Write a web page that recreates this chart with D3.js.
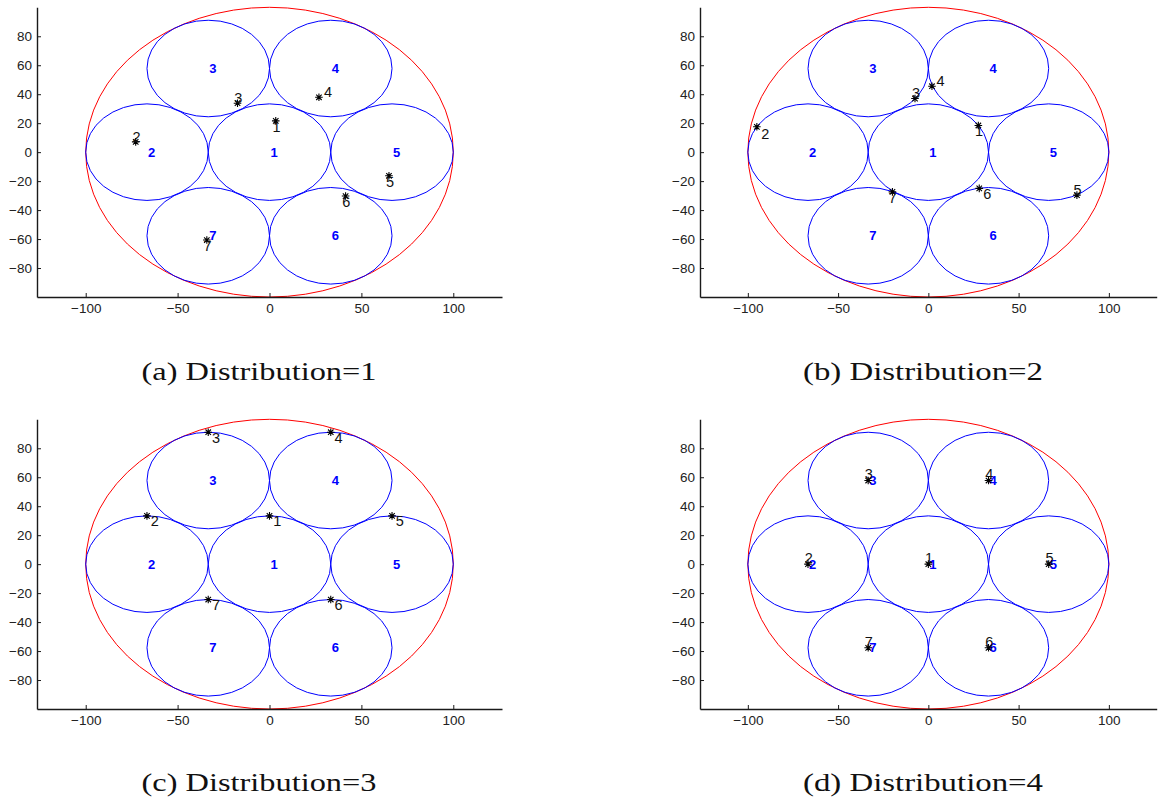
<!DOCTYPE html>
<html>
<head>
<meta charset="utf-8">
<script src="https://cdn.jsdelivr.net/npm/d3@7"></script>
<style>
  body { margin: 0; background: #fff; }
  svg { display: block; }
</style>
</head>
<body>
<svg id="chart" width="1172" height="800"></svg>
<script>
// ---------- data ----------
const cellIds = [1, 2, 3, 4, 5, 6, 7];
const cellX = [0, -66.67, -33.33, 33.33, 66.67, 33.33, -33.33];
const cellY = [0, 0, 57.74, 57.74, 0, -57.74, -57.74];
const cellRadius = 33.33;
const coverageRadius = 100;

const xTicks = [-100, -50, 0, 50, 100];
const yTicks = [-80, -60, -40, -20, 0, 20, 40, 60, 80];
const xDomain = [-126.5, 126.5];
const yDomain = [-100, 100];

const captions = ["(a) Distribution=1", "(b) Distribution=2", "(c) Distribution=3", "(d) Distribution=4"];

// user positions (one per cell) for each distribution
const userX1 = [3.4, -72.8, -17.4, 26.9, 65.0, 41.4, -34.1];
const userY1 = [21.6, 7.1, 33.8, 37.9, -16.3, -30.3, -60.7];
const labelDX1 = [0.4, 0.4, 0.4, 4.9, 0.6, 0.4, 0.4];
const labelDY1 = [-4.1, 3.4, 3.7, 4.1, -3.9, -3.9, -4.1];

const userX2 = [27.7, -95.0, -7.4, 2.0, 82.3, 28.2, -19.9];
const userY2 = [18.4, 17.5, 37.0, 45.5, -29.7, -25.0, -27.4];
const labelDX2 = [0.4, 4.6, 0.6, 4.8, 0.4, 4.4, 0.0];
const labelDY2 = [-3.7, -4.6, 3.9, 3.9, 3.9, -3.9, -3.9];

const userX3 = [0, -66.67, -33.33, 33.33, 66.67, 33.33, -33.33];
const userY3 = [33.33, 33.33, 91.07, 91.07, 33.33, -24.41, -24.41];
const labelDX3 = [4.2, 4.2, 4.2, 4.2, 4.2, 4.2, 4.2];
const labelDY3 = [-3.7, -3.7, -3.7, -3.7, -3.7, -3.7, -3.7];

const userX4 = [0, -66.67, -33.33, 33.33, 66.67, 33.33, -33.33];
const userY4 = [0, 0, 57.74, 57.74, 0, -57.74, -57.74];
const labelDX4 = [0.4, 0.4, 0.4, 0.4, 0.4, 0.4, 0.4];
const labelDY4 = [4.4, 4.4, 4.4, 4.4, 4.4, 4.4, 4.4];

const distributions = [
  { ux: userX1, uy: userY1, dx: labelDX1, dy: labelDY1 },
  { ux: userX2, uy: userY2, dx: labelDX2, dy: labelDY2 },
  { ux: userX3, uy: userY3, dx: labelDX3, dy: labelDY3 },
  { ux: userX4, uy: userY4, dx: labelDX4, dy: labelDY4 }
];

// ---------- layout ----------
const panels = [
  { left: 37,  right: 502,    top: 7.3,   bottom: 297, capX: 259, capY: 379.5, capW: 235 },
  { left: 700, right: 1156.7, top: 7.3,   bottom: 297, capX: 923, capY: 379.5, capW: 240 },
  { left: 37,  right: 502,    top: 419.3, bottom: 709, capX: 259, capY: 791,   capW: 235 },
  { left: 700, right: 1156.7, top: 419.3, bottom: 709, capX: 923, capY: 791,   capW: 240 }
];

const svg = d3.select("#chart");
const tickFont = "'Liberation Sans', Arial, Helvetica, sans-serif";
const fmt = d3.format("");

panels.forEach((p, i) => {
  const dist = distributions[i];
  const x = d3.scaleLinear().domain(xDomain).range([p.left, p.right]);
  const y = d3.scaleLinear().domain(yDomain).range([p.bottom, p.top]);
  const g = svg.append("g");

  // outer coverage circle (red)
  g.append("ellipse")
    .attr("cx", x(0)).attr("cy", y(0))
    .attr("rx", x(coverageRadius) - x(0))
    .attr("ry", y(0) - y(coverageRadius))
    .attr("fill", "none").attr("stroke", "#ff0000").attr("stroke-width", 1);

  // cells (blue)
  g.selectAll("ellipse.cell").data(cellIds).join("ellipse")
    .attr("class", "cell")
    .attr("cx", (d, k) => x(cellX[k]))
    .attr("cy", (d, k) => y(cellY[k]))
    .attr("rx", x(cellRadius) - x(0))
    .attr("ry", y(0) - y(cellRadius))
    .attr("fill", "none").attr("stroke", "#0000ff").attr("stroke-width", 1);

  // cell labels
  g.selectAll("text.cellLabel").data(cellIds).join("text")
    .attr("class", "cellLabel")
    .attr("x", (d, k) => x(cellX[k]) + 1)
    .attr("y", (d, k) => y(cellY[k]))
    .attr("dy", "0.36em")
    .attr("font-family", tickFont)
    .attr("font-weight", "bold")
    .attr("font-size", 13)
    .attr("fill", "#0000ff")
    .text(d => d);

  // user markers (asterisk)
  const s = 3.8, d2 = s * 0.72;
  const starPath = `M${-s},0H${s}M0,${-s}V${s}M${-d2},${-d2}L${d2},${d2}M${-d2},${d2}L${d2},${-d2}`;
  g.selectAll("path.user").data(cellIds).join("path")
    .attr("class", "user")
    .attr("transform", (d, k) => `translate(${x(dist.ux[k])},${y(dist.uy[k])})`)
    .attr("d", starPath)
    .attr("fill", "none").attr("stroke", "#000").attr("stroke-width", 1.1);

  // user labels
  g.selectAll("text.userLabel").data(cellIds).join("text")
    .attr("class", "userLabel")
    .attr("x", (d, k) => x(dist.ux[k] + dist.dx[k]))
    .attr("y", (d, k) => y(dist.uy[k] + dist.dy[k]))
    .attr("dy", "0.36em")
    .attr("text-anchor", "middle")
    .attr("font-family", tickFont)
    .attr("font-size", 14.5)
    .attr("fill", "#111")
    .text(d => d);

  // axes
  const xAxis = d3.axisBottom(x).tickValues(xTicks).tickFormat(fmt).tickSizeInner(-4).tickSizeOuter(0).tickPadding(6);
  const yAxis = d3.axisLeft(y).tickValues(yTicks).tickFormat(fmt).tickSizeInner(-4).tickSizeOuter(0).tickPadding(5);

  const gx = g.append("g").attr("transform", `translate(0,${p.bottom})`).call(xAxis);
  const gy = g.append("g").attr("transform", `translate(${p.left},0)`).call(yAxis);
  [gx, gy].forEach(ax => {
    ax.select(".domain").attr("stroke", "#1a1a1a").attr("stroke-width", 1.4);
    ax.selectAll(".tick line").attr("stroke", "#1a1a1a").attr("stroke-width", 1);
    ax.selectAll(".tick text")
      .attr("font-family", tickFont)
      .attr("font-size", 13.5)
      .attr("fill", "#222");
  });

  // caption
  svg.append("text")
    .attr("x", p.capX).attr("y", p.capY)
    .attr("text-anchor", "middle")
    .attr("font-family", "'Liberation Serif', 'Times New Roman', serif")
    .attr("font-size", 24.5)
    .attr("fill", "#111")
    .attr("textLength", p.capW)
    .attr("lengthAdjust", "spacingAndGlyphs")
    .text(captions[i]);
});
</script>
</body>
</html>
